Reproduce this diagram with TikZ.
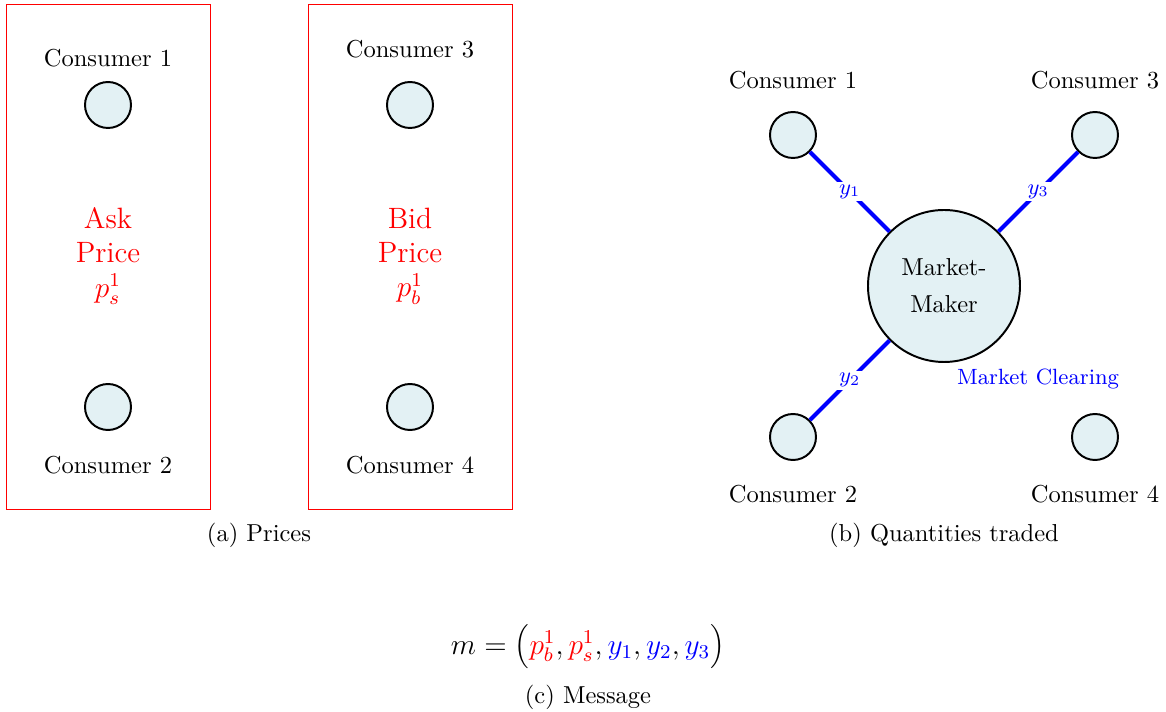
\documentclass[tikz,border=0pt]{standalone}
\begin{document}
\begin{tikzpicture}[x=0.408pt,y=-0.408pt,
  agent/.style={circle,draw=black,thick,fill=nodefill,minimum size=46*0.408pt,inner sep=0pt},
  mm/.style={circle,draw=black,thick,fill=nodefill,minimum size=152*0.408pt,inner sep=0pt,align=center,font=\normalsize},
  pricebox/.style={draw=red,thin,minimum width=204*0.408pt,minimum height=505*0.408pt,inner sep=0pt},
  pricetxt/.style={text=red,font=\large,align=center},
  trade/.style={draw=blue,ultra thick},
  qlabel/.style={fill=white,text=blue,font=\small,inner sep=1pt},
  caption/.style={font=\normalsize}]
\definecolor{nodefill}{HTML}{E3F1F4}
\useasboundingbox (0,0) rectangle (1166,712);
% (a) Prices
\node[pricebox] (boxA) at (108,256.5) {};
\node[pricebox] (boxB) at (410,256.5) {};
\node[agent] (a1) at (108,105) {};
\node[agent] (a2) at (108,407) {};
\node[agent] (a3) at (410,105) {};
\node[agent] (a4) at (410,407) {};
\node (la1) at (108,58) {Consumer 1};
\node (la2) at (108,465) {Consumer 2};
\node (la3) at (410,49) {Consumer 3};
\node (la4) at (410,465) {Consumer 4};
\node[pricetxt] (ask) at (108,256) {Ask\\Price\\$p_s^1$};
\node[pricetxt] (bid) at (410,256) {Bid\\Price\\$p_b^1$};
\node[caption] (capA) at (259,535) {(a) Prices};
% (b) Quantities traded
\node[mm] (MM) at (944,286) {Market-\\[3pt]Maker};
\node[agent] (b1) at (793,135) {};
\node[agent] (b3) at (1095,135) {};
\node[agent] (b2) at (793,437) {};
\node[agent] (b4) at (1095,437) {};
\node (lb1) at (793,80) {Consumer 1};
\node (lb3) at (1095,80) {Consumer 3};
\node (lb2) at (793,494) {Consumer 2};
\node (lb4) at (1095,494) {Consumer 4};
\draw[trade] (b1) -- node[qlabel] {$y_1$} (MM);
\draw[trade] (b3) -- node[qlabel] {$y_3$} (MM);
\draw[trade] (b2) -- node[qlabel] {$y_2$} (MM);
\node[text=blue,font=\small] (clear) at (1038,379) {Market Clearing};
\node[caption] (capB) at (944,535) {(b) Quantities traded};
% (c) Message
\node[font=\large] (msg) at (588,647) {$m=\Bigl({\color{red}p_b^1},{\color{red}p_s^1},{\color{blue}y_1},{\color{blue}y_2},{\color{blue}y_3}\Bigr)$};
\node[caption] (capC) at (588,697) {(c) Message};
\end{tikzpicture}
\end{document}
